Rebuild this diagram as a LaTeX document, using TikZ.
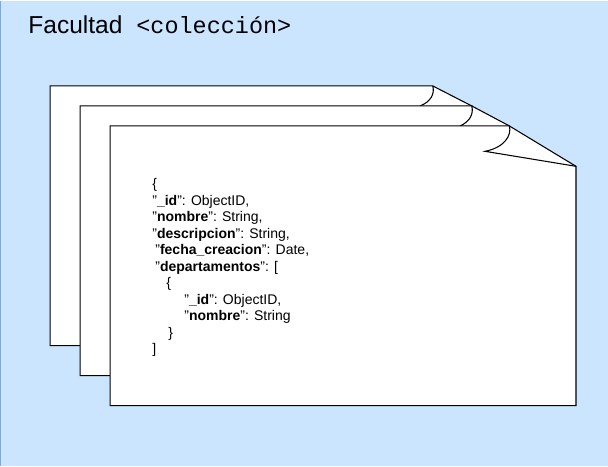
\documentclass[tikz,border=0pt]{standalone}
\usepackage{fontspec}
\setmainfont{Liberation Sans}
\newfontfamily\monofont{Liberation Mono}
\definecolor{bgblue}{HTML}{CCE5FF}
\definecolor{edgeblue}{HTML}{7EA6E0}
\begin{document}
\begin{tikzpicture}[x=0.75pt,y=-0.75pt,
  page/.style={draw=black,fill=white,line width=0.8pt,line join=miter},
  fold/.style={draw=black,line width=0.8pt},
  codeline/.style={anchor=base west,inner sep=0pt,font=\fontsize{10.5}{12}\selectfont},
  titletext/.style={anchor=base west,inner sep=0pt}]
% background
\fill[bgblue] (0,0) rectangle (608,465);
\draw[edgeblue,line width=1pt] (0.5,0) -- (0.5,465);
\useasboundingbox (0,0) rectangle (608,465);
% title
\node[titletext,font=\fontsize{18.4}{20}\selectfont] (title) at (28,33) {Facultad};
\node[titletext,font=\monofont\fontsize{17.6}{20}\selectfont] (coll) at (136,33) {<colección>};
% page 1
\coordinate (c1) at (432.7,85.3);
\coordinate (c2) at (471.7,105.3);
\coordinate (c3) at (509.3,125.3);
\path[page] (50,345) -- (50,85.3) -- (c1) -- (c2) -- (465,115) -- (465,345) -- cycle;
\draw[fold] (c1) .. controls (434.8,93) and (431,101) .. (420,105.3);
% page 2
\path[page] (80,375) -- (80,105.3) -- (c2) -- (c3) -- (500,135) -- (500,375) -- cycle;
\draw[fold] (c2) .. controls (473.8,113) and (470,121) .. (460,125.3);
% page 3
\coordinate (d3) at (576,165.7);
\coordinate (f3) at (485,150.7);
\path[page] (110,405) -- (110,125.3) -- (c3) -- (d3) -- (576,405) -- cycle;
\draw[fold] (c3) .. controls (512,135) and (504,147) .. (f3) -- (d3);
% code text
\node[codeline] (l1) at (152,188) {\{};
\node[codeline] (l2) at (152,204.5) {"\textbf{\_id}": ObjectID,};
\node[codeline] (l3) at (152,221) {"\textbf{nombre}": String,};
\node[codeline] (l4) at (152,237.5) {"\textbf{descripcion}": String,};
\node[codeline] (l5) at (155,254) {"\textbf{fecha\_creacion}": Date,};
\node[codeline] (l6) at (155,270.5) {"\textbf{departamentos}": [};
\node[codeline] (l7) at (166,287) {\{};
\node[codeline] (l8) at (184,303.5) {"\textbf{\_id}": ObjectID,};
\node[codeline] (l9) at (184,320) {"\textbf{nombre}": String};
\node[codeline] (l10) at (168,336.5) {\}};
\node[codeline] (l11) at (152,353) {]};
\end{tikzpicture}
\end{document}
